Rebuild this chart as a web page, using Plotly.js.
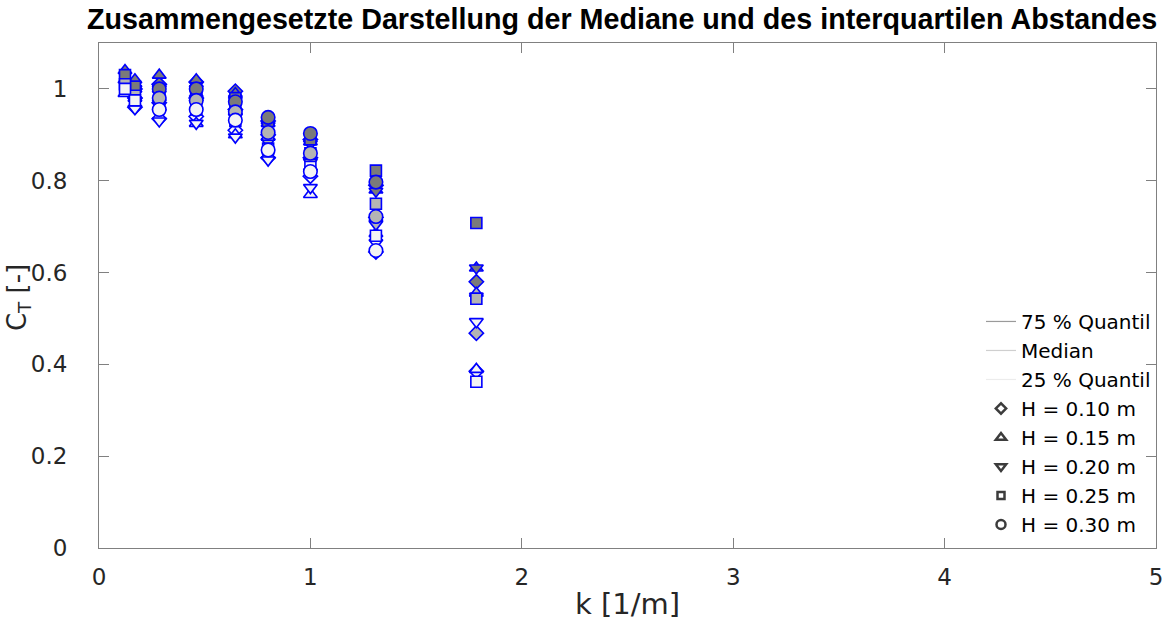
<!DOCTYPE html>
<html>
<head>
<meta charset="utf-8">
<script src="https://cdn.plot.ly/plotly-3.0.1.min.js"></script>
<style>html,body{margin:0;padding:0;background:#fff;}#chart{width:1164px;height:625px;}</style>
</head>
<body>
<div id="chart"></div>
<script>
// wave numbers per wave height
const kH10 = [0.17, 0.285, 0.46, 0.645, 0.80, 1.00, 1.31, 1.785];
const kH15 = [0.123, 0.17, 0.285, 0.46, 0.645, 0.80, 1.00, 1.31, 1.785];
const kH20 = [0.17, 0.285, 0.46, 0.645, 0.80, 1.00, 1.31, 1.785];
const kH25 = [0.123, 0.17, 0.285, 0.46, 0.645, 0.80, 1.00, 1.31, 1.785];
const kH30 = [0.285, 0.46, 0.645, 0.80, 1.00, 1.31];

// C_T quantiles
const H10_q75 = [1.00, 1.01, 1.015, 0.995, 0.93, 0.89, 0.79, 0.58];
const H10_med = [0.98, 0.97, 0.98, 0.955, 0.90, 0.85, 0.72, 0.468];
const H10_q25 = [0.96, 0.935, 0.94, 0.91, 0.85, 0.81, 0.645, 0.385];

const H15_q75 = [1.04, 1.02, 1.03, 1.02, 0.99, 0.925, 0.885, 0.78, 0.61];
const H15_med = [1.02, 1.00, 1.00, 0.99, 0.95, 0.895, 0.83, 0.72, 0.555];
const H15_q25 = [0.99, 0.98, 0.96, 0.925, 0.90, 0.855, 0.77, 0.685, 0.389];

const H20_q75 = [1.00, 1.00, 1.00, 0.975, 0.92, 0.88, 0.777, 0.61];
const H20_med = [0.975, 0.97, 0.97, 0.94, 0.885, 0.84, 0.705, 0.548];
const H20_q25 = [0.957, 0.93, 0.925, 0.895, 0.845, 0.785, 0.665, 0.493];

const H25_q75 = [1.03, 1.005, 0.995, 1.00, 0.98, 0.93, 0.89, 0.822, 0.708];
const H25_med = [1.01, 0.985, 0.98, 0.98, 0.955, 0.90, 0.86, 0.75, 0.543];
const H25_q25 = [1.00, 0.975, 0.96, 0.955, 0.93, 0.87, 0.83, 0.68, 0.362];

const H30_q75 = [1.00, 1.00, 0.972, 0.938, 0.903, 0.797];
const H30_med = [0.98, 0.975, 0.95, 0.905, 0.86, 0.722];
const H30_q25 = [0.955, 0.955, 0.932, 0.867, 0.82, 0.648];

const quantileNames = ['75 % Quantil', 'Median', '25 % Quantil'];
const heightNames = ['H = 0.10 m', 'H = 0.15 m', 'H = 0.20 m', 'H = 0.25 m', 'H = 0.30 m'];

const fills = ['#7a7a7a', '#b4b4b4', '#f4f4f4'];
const legendLineColors = ['#9a9a9a', '#cfcfcf', '#ececec'];
const symbols = ['diamond', 'triangle-up', 'triangle-down', 'square', 'circle'];
const sizes = [11, 12, 12, 11, 13.5];
const groups = [
  [kH10, [H10_q75, H10_med, H10_q25]],
  [kH15, [H15_q75, H15_med, H15_q25]],
  [kH20, [H20_q75, H20_med, H20_q25]],
  [kH25, [H25_q75, H25_med, H25_q25]],
  [kH30, [H30_q75, H30_med, H30_q25]]
];

const traces = [];
groups.forEach((g, hi) => {
  g[1].forEach((vals, qi) => {
    traces.push({
      type: 'scatter', mode: 'markers', x: g[0], y: vals, showlegend: false,
      marker: {symbol: symbols[hi], size: sizes[hi], color: fills[qi], line: {color: '#0000ff', width: 1.6}},
      hoverinfo: 'x+y'
    });
  });
});
// legend entries
quantileNames.forEach((n, qi) => {
  traces.push({type: 'scatter', mode: 'lines', x: [null], y: [null], name: n,
    line: {color: legendLineColors[qi], width: 1.2}});
});
const legSymbols = ['diamond-open', 'triangle-up-open', 'triangle-down-open', 'square-open', 'circle-open'];
const legSizes = [8, 9, 9, 7, 9];
heightNames.forEach((n, hi) => {
  traces.push({type: 'scatter', mode: 'markers', x: [null], y: [null], name: n,
    marker: {symbol: legSymbols[hi], size: legSizes[hi], color: '#3c3c3c', line: {color: '#3c3c3c', width: 2.5}}});
});

const fontFam = 'DejaVu Sans, sans-serif';
const layout = {
  width: 1164, height: 625,
  margin: {l: 99, r: 8, t: 43, b: 77},
  paper_bgcolor: '#ffffff', plot_bgcolor: '#ffffff',
  font: {family: fontFam, color: '#262626'},
  title: {text: '<b>Zusammengesetzte Darstellung der Mediane und des interquartilen Abstandes</b>',
    font: {family: 'Liberation Sans, Arial, sans-serif', size: 28.7, color: '#000000'}, x: 0.5344, xanchor: 'center', y: 0.97, yanchor: 'middle'},
  xaxis: {
    range: [0, 5], tickvals: [0, 1, 2, 3, 4, 5], ticktext: ['0', '1', '2', '3', '4', '5'],
    showgrid: false, zeroline: false, showline: true, mirror: 'ticks', linecolor: '#808080', linewidth: 1,
    ticks: 'inside', ticklen: 10, tickcolor: '#808080', tickfont: {size: 23, color: '#262626'},
    ticklabelstandoff: 8,
    title: {text: 'k [1/m]', font: {size: 29, color: '#262626'}, standoff: 5}
  },
  yaxis: {
    range: [0, 1.1], tickvals: [0, 0.2, 0.4, 0.6, 0.8, 1], ticktext: ['0', '0.2', '0.4', '0.6', '0.8', '1'],
    showgrid: false, zeroline: false, showline: true, mirror: 'ticks', linecolor: '#808080', linewidth: 1,
    ticks: 'inside', ticklen: 10, tickcolor: '#808080', tickfont: {size: 23, color: '#262626'},
    ticklabelstandoff: 26
  },
  annotations: [{
    text: 'C<sub>T</sub> [-]', xref: 'paper', yref: 'paper', x: -0.0766, y: 0.495,
    xanchor: 'center', yanchor: 'middle', textangle: -90, showarrow: false,
    font: {family: fontFam, size: 26, color: '#262626'}
  }],
  legend: {x: 1, xanchor: 'right', y: 0.008, yanchor: 'bottom', bgcolor: 'rgba(255,255,255,0)',
    borderwidth: 0, font: {size: 20, color: '#000000'}, tracegroupgap: 0, itemwidth: 30},
  showlegend: true
};
Plotly.newPlot('chart', traces, layout, {displayModeBar: false, staticPlot: true});
</script>
</body>
</html>
